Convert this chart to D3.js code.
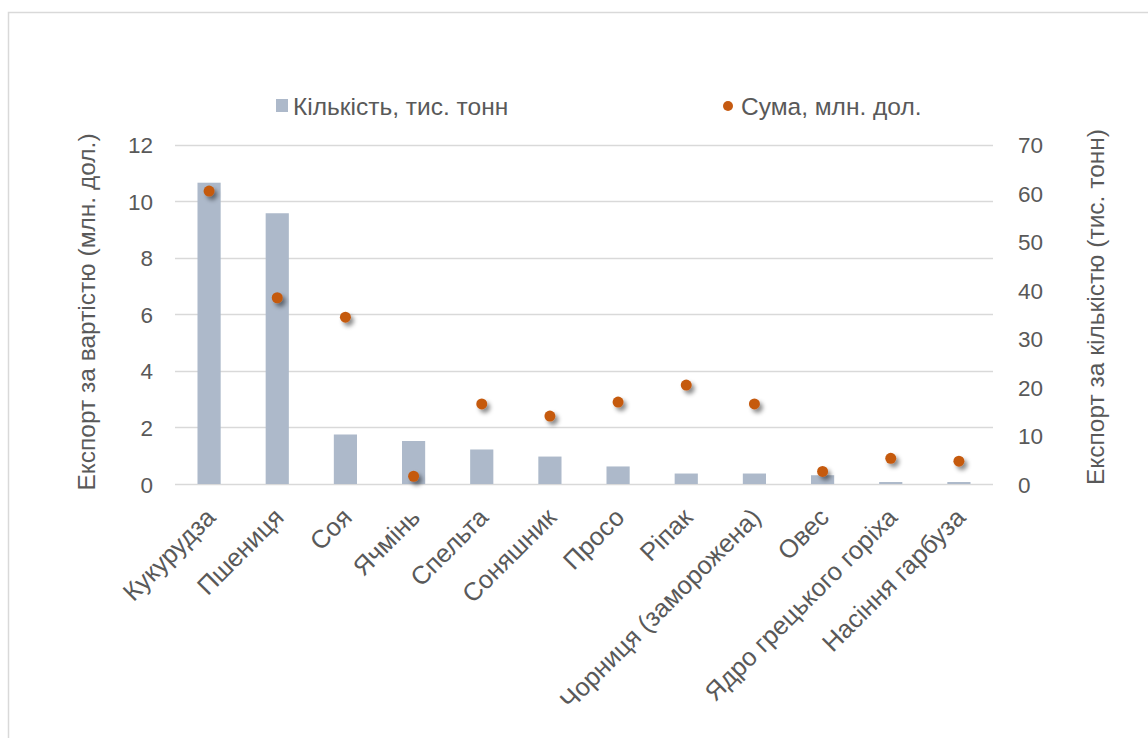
<!DOCTYPE html>
<html>
<head>
<meta charset="utf-8">
<script src="https://cdn.jsdelivr.net/npm/d3@7"></script>
<style>
  body { margin: 0; background: #fff; }
  text { font-family: "Liberation Sans", Arial, sans-serif; fill: #595959; }
</style>
</head>
<body>
<div id="chart"></div>
<script>
// data
const categories = ['Кукурудза', 'Пшениця', 'Соя', 'Ячмінь', 'Спельта', 'Соняшник', 'Просо',
  'Ріпак', 'Чорниця (заморожена)', 'Овес', 'Ядро грецького горіха', 'Насіння гарбуза'];
const quantity = [10.65, 9.57, 1.75, 1.52, 1.22, 0.97, 0.62, 0.37, 0.37, 0.31, 0.07, 0.07];
const amount = [60.4, 38.4, 34.4, 1.6, 16.5, 14.0, 16.9, 20.4, 16.5, 2.6, 5.3, 4.7];
const leftTicks = [0, 2, 4, 6, 8, 10, 12];
const rightTicks = [0, 10, 20, 30, 40, 50, 60, 70];
const legendLabels = ['Кількість, тис. тонн', 'Сума, млн. дол.'];
const leftTitle = 'Експорт за вартістю (млн. дол.)';
const rightTitle = 'Експорт за кількістю (тис. тонн)';

const width = 1148, height = 738;
const plot = { left: 175, right: 993, top: 144.5, bottom: 484 };
const barColor = '#ADB9CA', dotColor = '#C55A11', gridColor = '#D9D9D9';

const svg = d3.select('#chart').append('svg')
  .attr('width', width)
  .attr('height', height);

const defs = svg.append('defs');
defs.append('filter')
  .attr('id', 'shadow')
  .attr('x', '-100%').attr('y', '-100%')
  .attr('width', '300%').attr('height', '300%')
  .append('feDropShadow')
  .attr('dx', 3).attr('dy', 3.5)
  .attr('stdDeviation', 2.2)
  .attr('flood-color', '#000')
  .attr('flood-opacity', 0.45);

// outer frame
svg.append('rect')
  .attr('x', 8.5).attr('y', 12.5)
  .attr('width', 1160).attr('height', 760)
  .attr('fill', 'none')
  .attr('stroke', '#D9D9D9')
  .attr('stroke-width', 1.5);

const x = d3.scaleBand()
  .domain(categories)
  .range([plot.left, plot.right])
  .paddingInner(0.66)
  .paddingOuter(0.33);

const yLeft = d3.scaleLinear().domain([0, 12]).range([plot.bottom, plot.top]);
const yRight = d3.scaleLinear().domain([0, 70]).range([plot.bottom, plot.top]);

// gridlines
svg.append('g')
  .selectAll('line')
  .data(leftTicks)
  .join('line')
  .attr('x1', plot.left).attr('x2', plot.right)
  .attr('y1', d => Math.round(yLeft(d)) + 0.5)
  .attr('y2', d => Math.round(yLeft(d)) + 0.5)
  .attr('stroke', gridColor)
  .attr('stroke-width', 1.3);

// left axis
const leftAxis = svg.append('g')
  .attr('transform', 'translate(' + plot.left + ',0)')
  .call(d3.axisLeft(yLeft).tickValues(leftTicks).tickSize(0).tickPadding(22));
leftAxis.select('.domain').remove();
leftAxis.selectAll('text')
  .style('font-size', '22.5px')
  .attr('fill', '#595959')
  .attr('dy', '0.36em');

// right axis
const rightAxis = svg.append('g')
  .attr('transform', 'translate(' + plot.right + ',0)')
  .call(d3.axisRight(yRight).tickValues(rightTicks).tickSize(0).tickPadding(25));
rightAxis.select('.domain').remove();
rightAxis.selectAll('text')
  .style('font-size', '22.5px')
  .attr('fill', '#595959')
  .attr('dy', '0.36em');

// bars
svg.append('g')
  .selectAll('rect')
  .data(categories)
  .join('rect')
  .attr('x', d => x(d))
  .attr('y', (d, i) => yLeft(quantity[i]))
  .attr('width', x.bandwidth())
  .attr('height', (d, i) => yLeft(0) - yLeft(quantity[i]))
  .attr('fill', barColor);

// dots
svg.append('g')
  .selectAll('circle')
  .data(categories)
  .join('circle')
  .attr('cx', d => x(d) + x.bandwidth() / 2)
  .attr('cy', (d, i) => yRight(amount[i]))
  .attr('r', 5.5)
  .attr('fill', dotColor)
  .attr('filter', 'url(#shadow)');

// category labels
svg.append('g')
  .selectAll('text')
  .data(categories)
  .join('text')
  .attr('text-anchor', 'end')
  .attr('transform', d => 'translate(' + (x(d) + x.bandwidth() / 2 + 8) + ',' + 519 + ') rotate(-45)')
  .style('font-size', '25.5px')
  .text(d => d);

// axis titles
svg.append('text')
  .attr('text-anchor', 'middle')
  .attr('transform', 'translate(95,' + 312 + ') rotate(-90)')
  .style('font-size', '24.5px')
  .text(leftTitle);

svg.append('text')
  .attr('text-anchor', 'middle')
  .attr('transform', 'translate(1104,' + 307 + ') rotate(-90)')
  .style('font-size', '24.5px')
  .text(rightTitle);

// legend
const legend = svg.append('g');
legend.append('rect')
  .attr('x', 276).attr('y', 99)
  .attr('width', 12).attr('height', 13)
  .attr('fill', barColor);
legend.append('text')
  .attr('x', 293).attr('y', 115)
  .style('font-size', '24.5px')
  .text(legendLabels[0]);
legend.append('circle')
  .attr('cx', 728).attr('cy', 106)
  .attr('r', 5)
  .attr('fill', dotColor);
legend.append('text')
  .attr('x', 741).attr('y', 115)
  .style('font-size', '24.5px')
  .text(legendLabels[1]);
</script>
</body>
</html>
